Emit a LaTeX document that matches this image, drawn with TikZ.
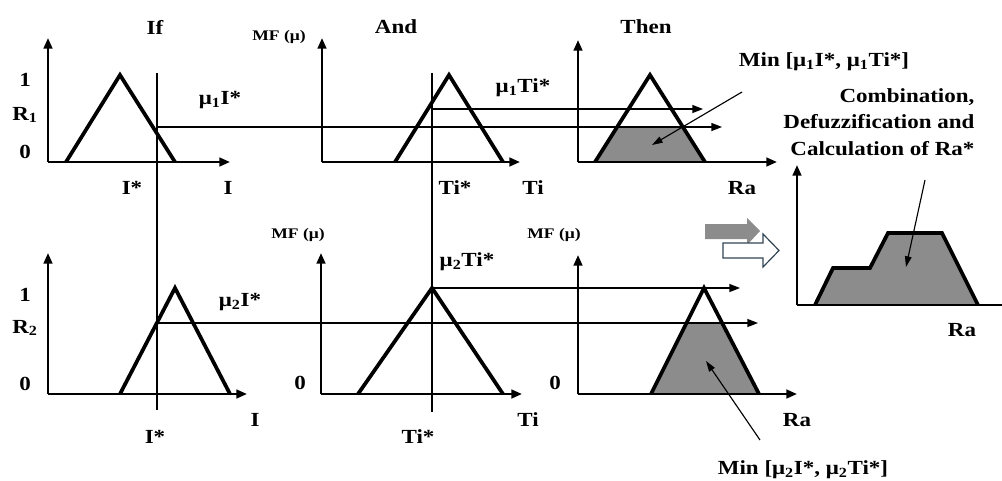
\documentclass[tikz,border=0pt]{standalone}
\usepackage{fontspec}
\setmainfont{Liberation Serif}[FakeStretch=1.15]
\newfontfamily\smallmf{Liberation Serif}[FakeStretch=1.2]
\usetikzlibrary{arrows.meta}
\definecolor{fillgray}{RGB}{140,140,140}
\definecolor{outlineblue}{RGB}{50,70,85}
\tikzset{
  axis/.style={line width=1.8pt, -{Triangle[length=8pt,width=6.5pt]}},
  axisline/.style={line width=1.8pt},
  mf/.style={line width=2.8pt, line join=miter},
  guide/.style={line width=1.05pt},
  flow/.style={line width=1.05pt, -{Triangle[length=8pt,width=6pt]}},
  pointer/.style={line width=0.85pt, -{Triangle[length=8pt,width=5pt]}},
  shade/.style={fill=fillgray},
  lbl/.style={font=\fontsize{15}{20}\selectfont\bfseries, inner sep=1pt},
  smalllbl/.style={font=\smallmf\fontsize{11}{12}\selectfont\bfseries, inner sep=1pt},
}
\begin{document}
\begin{tikzpicture}[x=0.75pt,y=-0.75pt]
\useasboundingbox (0,0) rectangle (1002,481);
\fill[white] (0,0) rectangle (1002,481);

% ---------- shaded areas ----------
\fill[shade] (595,162) -- (617,127) -- (683,127) -- (705,162) -- cycle;
\fill[shade] (651,394) -- (686.5,323) -- (723.5,323) -- (759,394) -- cycle;
\fill[shade] (815,305) -- (833,268) -- (870,268) -- (888,233) -- (942,233) -- (978,305) -- cycle;

% ---------- named points ----------
\coordinate (g1top) at (157,73);   \coordinate (g1bot) at (157,410);
\coordinate (g2top) at (432,73);   \coordinate (g2bot) at (432,412);
\coordinate (f1s) at (157,127);    \coordinate (f1e) at (722,127);
\coordinate (f2s) at (432,109);    \coordinate (f2e) at (703,109);
\coordinate (f3s) at (157,323);    \coordinate (f3e) at (758,323);
\coordinate (f4s) at (432,288);    \coordinate (f4e) at (740,288);

% ---------- guide and flow lines ----------
\draw[guide] (g1top) -- (g1bot);
\draw[guide] (g2top) -- (g2bot);
\draw[flow] (f1s) -- (f1e);
\draw[flow] (f2s) -- (f2e);
\draw[flow] (f3s) -- (f3e);
\draw[flow] (f4s) -- (f4e);

% ---------- panel 1 (If, R1) ----------
\coordinate (o1) at (48,162);
\draw[axis] (o1) -- (48,38);
\draw[axis] (o1) -- (230,162);
\draw[mf] (66,162) -- (120,75) -- (175,162);

% ---------- panel 2 (And, R1) ----------
\coordinate (o2) at (322,162);
\draw[axis] (o2) -- (322,38);
\draw[axis] (o2) -- (520,162);
\draw[mf] (395,162) -- (449,75) -- (503,162);

% ---------- panel 3 (Then, R1) ----------
\coordinate (o3) at (578,162);
\draw[axis] (o3) -- (578,40);
\draw[axis] (o3) -- (777,162);
\draw[mf] (595,162) -- (650,75) -- (705,162);

% ---------- panel 4 (R2) ----------
\coordinate (o4) at (48,394);
\draw[axis] (o4) -- (48,253);
\draw[axis] (o4) -- (247,394);
\draw[mf] (120,394) -- (175,288) -- (230,394);

% ---------- panel 5 ----------
\coordinate (o5) at (321,394);
\draw[axis] (o5) -- (321,253);
\draw[axis] (o5) -- (522,394);
\draw[mf] (358,394) -- (432,288) -- (503,394);

% ---------- panel 6 ----------
\coordinate (o6) at (578,394);
\draw[axis] (o6) -- (578,255);
\draw[axis] (o6) -- (797,394);
\draw[mf] (651,394) -- (704,288) -- (759,394);

% ---------- result panel ----------
\coordinate (o7) at (797,305);
\draw[axis] (o7) -- (797,165);
\draw[axisline] (o7) -- (1002,305);
\draw[mf] (815,305) -- (833,268) -- (870,268) -- (888,233) -- (942,233) -- (978,305);

% ---------- block arrows ----------
\fill[fillgray] (705,224) -- (747,224) -- (747,218) -- (760,231) -- (747,245) -- (747,239) -- (705,239) -- cycle;
\draw[fill=white, draw=outlineblue, line width=0.9pt] (723,243) -- (763,243) -- (763,234) -- (779,250.5) -- (763,267) -- (763,258) -- (723,258) -- cycle;

% ---------- labels, top row ----------
\node[lbl] (tIf) at (155,27) {If};
\node[lbl] (tAnd) at (396,27) {And};
\node[lbl] (tThen) at (646,27) {Then};
\node[smalllbl] (mf1) at (279,37) {MF (μ)};
\node[lbl] (one1) at (25,80) {1};
\node[lbl] (r1) at (25,115) {R\textsubscript{1}};
\node[lbl] (zero1) at (25,152) {0};
\node[lbl] (mu1I) at (220,100) {μ\textsubscript{1}I*};
\node[lbl] (Istar1) at (132,188) {I*};
\node[lbl] (I1) at (228,188) {I};
\node[lbl] (mu1Ti) at (523,88) {μ\textsubscript{1}Ti*};
\node[lbl] (Tistar1) at (455,188) {Ti*};
\node[lbl] (Ti1) at (533,188) {Ti};
\node[lbl] (Ra1) at (742,188) {Ra};
\node[lbl] (min1) at (824,62) {Min [μ\textsubscript{1}I*, μ\textsubscript{1}Ti*]};
\node[lbl, align=right, anchor=east] (comb) at (976,122) {Combination,\\Defuzzification and\\Calculation of Ra*};

% ---------- labels, bottom row ----------
\node[lbl] (one2) at (25,295) {1};
\node[lbl] (r2) at (25,328) {R\textsubscript{2}};
\node[lbl] (zero2) at (25,384) {0};
\node[lbl] (mu2I) at (240,302) {μ\textsubscript{2}I*};
\node[lbl] (Istar2) at (155,437) {I*};
\node[lbl] (I2) at (255,420) {I};
\node[smalllbl] (mf2) at (298,235) {MF (μ)};
\node[lbl] (zero3) at (300,383) {0};
\node[lbl] (mu2Ti) at (467,262) {μ\textsubscript{2}Ti*};
\node[lbl] (Tistar2) at (418,437) {Ti*};
\node[lbl] (Ti2) at (528,420) {Ti};
\node[smalllbl] (mf3) at (554,235) {MF (μ)};
\node[lbl] (zero4) at (555,383) {0};
\node[lbl] (Ra2) at (797,420) {Ra};
\node[lbl] (min2) at (803,470) {Min [μ\textsubscript{2}I*, μ\textsubscript{2}Ti*]};
\node[lbl] (Ra3) at (962,330) {Ra};

% ---------- pointers ----------
\coordinate (p1s) at (742,92);  \coordinate (p1e) at (652,145);
\coordinate (p2s) at (760,440); \coordinate (p2e) at (706,361);
\coordinate (p3s) at (925,180); \coordinate (p3e) at (906,267);
\draw[pointer] (p1s) -- (p1e);
\draw[pointer] (p2s) -- (p2e);
\draw[pointer] (p3s) -- (p3e);
\end{tikzpicture}
\end{document}
